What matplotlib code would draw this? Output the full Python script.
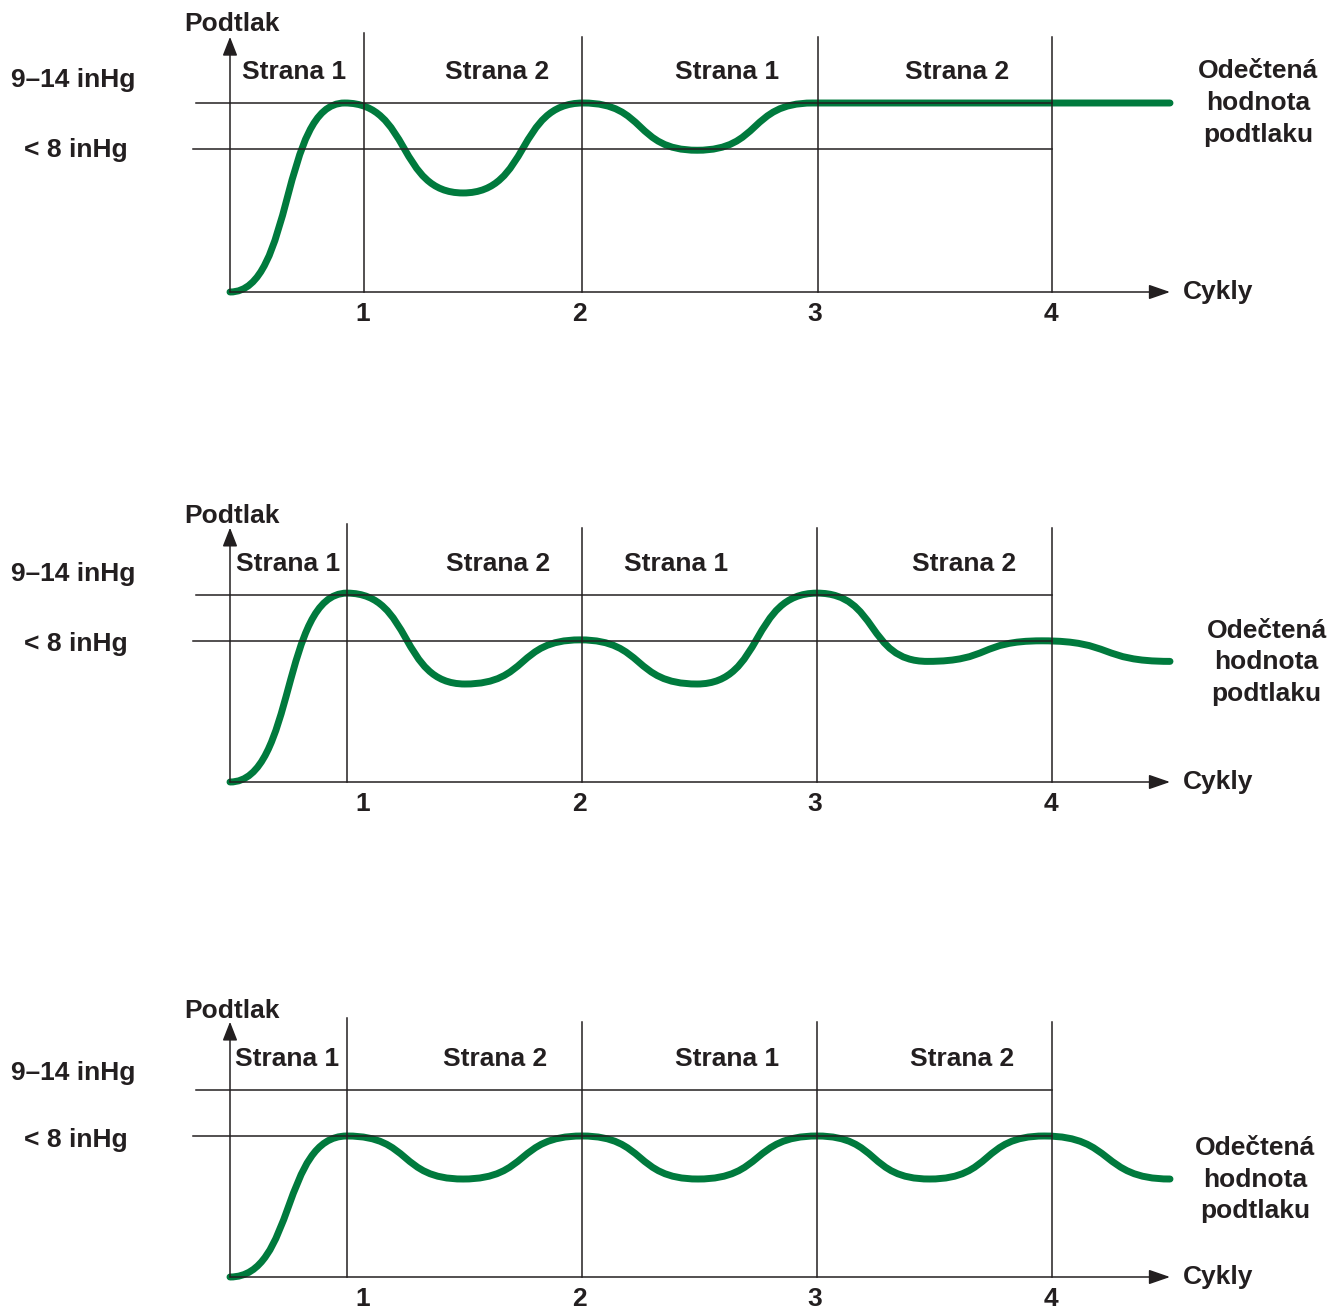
import matplotlib
matplotlib.use("Agg")
import matplotlib.pyplot as plt
from matplotlib.path import Path
from matplotlib.patches import PathPatch

plt.rcParams['font.family'] = ['Liberation Sans', 'DejaVu Sans']

INK = '#231f20'
GREEN = '#007a3d'

# cycle tick labels and side labels (same in every panel)
cycle_labels = ['1', '2', '3', '4']
tick_x = [0.565, 1.494, 2.5, 3.507]
side_labels = ['Strana 1', 'Strana 2', 'Strana 1', 'Strana 2']
level_labels = ['9–14 inHg', '< 8 inHg']
levels = [1.0, 0.754]          # upper / lower reference level (relative)

# panel 1
p1_cycle_x = [0.573, 1.504, 2.513, 3.513]
p1_side_x = [0.274, 1.141, 2.124, 3.107]
p1_t = [0, 0.49, 0.996, 1.509, 1.996, 2.49, 4.017]
p1_v = [0, 1.0, 0.524, 1.0, 0.75, 1.0, 1.0]

# panel 2
p2_cycle_x = [0.5, 1.504, 2.509, 3.513]
p2_side_x = [0.248, 1.145, 1.906, 3.137]
p2_t = [0, 0.5, 1.004, 1.496, 1.996, 2.509, 2.98, 3.47, 4.017]
p2_v = [0, 1.01, 0.524, 0.76, 0.524, 1.01, 0.645, 0.755, 0.645]

# panel 3
p3_cycle_x = [0.5, 1.504, 2.509, 3.513]
p3_side_x = [0.244, 1.132, 2.124, 3.128]
p3_t = [0, 0.5, 0.996, 1.504, 2.0, 2.509, 2.99, 3.48, 4.017]
p3_v = [0, 0.754, 0.524, 0.754, 0.524, 0.754, 0.524, 0.754, 0.524]

W, H = 1341, 1311
fig = plt.figure(figsize=(W / 100, H / 100), dpi=100)


def smooth_path(t, v, k=0.56):
    """Bezier through the extrema, flat tangent at each one."""
    verts = [(t[0], v[0])]
    codes = [Path.MOVETO]
    for i in range(1, len(t)):
        dx = t[i] - t[i - 1]
        verts += [(t[i - 1] + k * dx, v[i - 1]), (t[i] - k * dx, v[i]), (t[i], v[i])]
        codes += [Path.CURVE4] * 3
    return Path(verts, codes)


def draw_panel(axis_y, unit, cycle_x, side_x, t, v, vtop, label_y, odec):
    x_end = 4.017
    ax = fig.add_axes([230 / W, (H - axis_y) / H, 940 / W, unit / H])
    ax.set_xlim(0, x_end)
    ax.set_ylim(0, 1)
    ax.axis('off')
    kw = dict(color=INK, lw=1.1, clip_on=False)

    # reference levels
    ax.plot([-0.145, cycle_x[-1]], [levels[0]] * 2, **kw)
    ax.plot([-0.158, cycle_x[-1]], [levels[1]] * 2, **kw)

    # cycle lines
    for i, cx in enumerate(cycle_x):
        ax.plot([cx, cx], [0, vtop + (0.02 if i == 0 else 0)], **kw)
    for tx, lab in zip(tick_x, cycle_labels):
        ax.text(tx, -0.118, lab, ha='center', va='center',
                fontsize=19, fontweight='bold', color=INK)

    # axes with arrows
    ax.annotate('', xy=(x_end, 0), xytext=(0, 0), annotation_clip=False,
                arrowprops=dict(arrowstyle='-|>,head_length=1.3,head_width=0.45',
                                color=INK, lw=1.1, shrinkA=0, shrinkB=0))
    ax.annotate('', xy=(0, vtop), xytext=(0, 0), annotation_clip=False,
                arrowprops=dict(arrowstyle='-|>,head_length=1.15,head_width=0.45',
                                color=INK, lw=1.1, shrinkA=0, shrinkB=0))

    # curve
    ax.add_patch(PathPatch(smooth_path(t, v), fill=False, edgecolor=GREEN,
                           lw=5.0, capstyle='round', joinstyle='round', clip_on=False))

    tk = dict(fontsize=19, fontweight='bold', color=INK, va='center')
    ax.text(0.01, 1.42, 'Podtlak', ha='center', **tk)
    for sx, s in zip(side_x, side_labels):
        ax.text(sx, 1.165, s, ha='center', **tk)
    ax.text(-0.67, label_y[0], level_labels[0], ha='center', **tk)
    ax.text(-0.66, label_y[1], level_labels[1], ha='center', **tk)
    ax.text(4.07, 0.0, 'Cykly', ha='left', **tk)
    ax.text(odec[0], odec[1], 'Odečtená\nhodnota\npodtlaku', ha='center',
            linespacing=1.4, **tk)


draw_panel(292, 189, p1_cycle_x, p1_side_x, p1_t, p1_v, 1.35, [1.12, 0.75], (4.393, 1.0))
draw_panel(782, 187, p2_cycle_x, p2_side_x, p2_t, p2_v, 1.36, [1.11, 0.74], (4.43, 0.64))
draw_panel(1277, 187, p3_cycle_x, p3_side_x, p3_t, p3_v, 1.365, [1.09, 0.73], (4.38, 0.52))

fig.savefig('out.png', dpi=100)
